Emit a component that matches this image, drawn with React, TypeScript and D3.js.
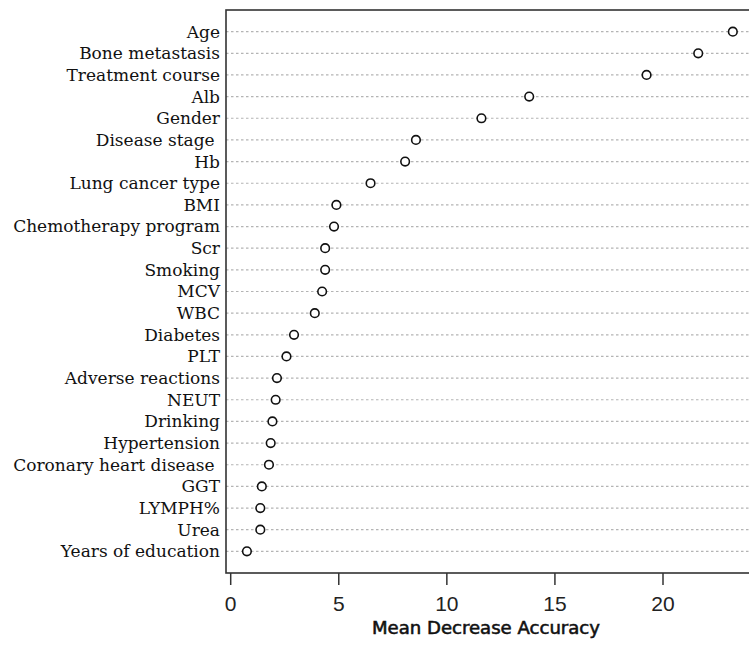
import * as d3 from "d3";
import { useRef, useEffect } from "react";

// variables, top to bottom as drawn
const variables = [
  "Age", "Bone metastasis", "Treatment course", "Alb", "Gender", "Disease stage ",
  "Hb", "Lung cancer type", "BMI", "Chemotherapy program", "Scr", "Smoking",
  "MCV", "WBC", "Diabetes", "PLT", "Adverse reactions", "NEUT", "Drinking",
  "Hypertension", "Coronary heart disease ", "GGT", "LYMPH%", "Urea", "Years of education",
];
// mean decrease accuracy
const accuracy = [
  23.23, 21.63, 19.24, 13.81, 11.6, 8.57, 8.07, 6.47, 4.89, 4.78, 4.37, 4.37,
  4.23, 3.89, 2.93, 2.58, 2.14, 2.08, 1.93, 1.85, 1.77, 1.44, 1.37, 1.37, 0.75,
];
const xTicks = [0, 5, 10, 15, 20];

const W = 749;
const H = 646;

const App = () => {
  const ref = useRef<SVGSVGElement>(null);

  useEffect(() => {
    const svg = d3.select(ref.current);
    svg.selectAll("*").remove();

    // frame
    const frame = { left: 226, top: 10, right: 751, bottom: 573 };

    const x = d3.scaleLinear().domain([0, 20]).range([230.7, 663]);
    const y = d3.scaleLinear().domain([0, variables.length + 1]).range([frame.top, frame.bottom]);

    // dotted guide lines
    svg.append("g")
      .selectAll("line")
      .data(variables)
      .enter()
      .append("line")
      .attr("x1", frame.left)
      .attr("x2", frame.right)
      .attr("y1", (d, i) => y(i + 1))
      .attr("y2", (d, i) => y(i + 1))
      .attr("stroke", "#b4b4b4")
      .attr("stroke-width", 1.2)
      .attr("stroke-dasharray", "2.5,2.5");

    svg.append("rect")
      .attr("x", frame.left)
      .attr("y", frame.top)
      .attr("width", frame.right - frame.left)
      .attr("height", frame.bottom - frame.top)
      .attr("fill", "none")
      .attr("stroke", "#333")
      .attr("stroke-width", 1.6);

    // labels
    svg.append("g")
      .selectAll("text")
      .data(variables)
      .enter()
      .append("text")
      .attr("x", 220)
      .attr("y", (d, i) => y(i + 1))
      .attr("dy", "0.35em")
      .attr("text-anchor", "end")
      .style("white-space", "pre")
      .style("font-family", "'DejaVu Serif', serif")
      .style("font-size", "17px")
      .attr("fill", "#111")
      .text(d => d);

    // points
    svg.append("g")
      .selectAll("circle")
      .data(accuracy)
      .enter()
      .append("circle")
      .attr("cx", d => x(d))
      .attr("cy", (d, i) => y(i + 1))
      .attr("r", 4.3)
      .attr("fill", "white")
      .attr("stroke", "#111")
      .attr("stroke-width", 1.6);

    // x axis
    const axis = svg.append("g");
    axis.selectAll("line")
      .data(xTicks)
      .enter()
      .append("line")
      .attr("x1", d => x(d))
      .attr("x2", d => x(d))
      .attr("y1", frame.bottom)
      .attr("y2", frame.bottom + 12)
      .attr("stroke", "#333")
      .attr("stroke-width", 1.5);
    axis.selectAll("text")
      .data(xTicks)
      .enter()
      .append("text")
      .attr("x", d => x(d))
      .attr("y", 611)
      .attr("text-anchor", "middle")
      .style("font-family", "'Liberation Sans', Arial, sans-serif")
      .style("font-size", "21px")
      .attr("fill", "#222")
      .text(d => d);

    svg.append("text")
      .attr("x", 486)
      .attr("y", 634)
      .attr("text-anchor", "middle")
      .attr("textLength", 228)
      .attr("lengthAdjust", "spacingAndGlyphs")
      .style("font-family", "'DejaVu Sans Condensed', 'DejaVu Sans', sans-serif")
      .style("font-size", "17px")
      .attr("fill", "#111")
      .attr("stroke", "#111")
      .attr("stroke-width", 0.5)
      .text("Mean Decrease Accuracy");
  }, []);

  return (
    <svg ref={ref} width={W} height={H}
      style={{ position: "absolute", left: 0, top: 0, background: "white" }} />
  );
};

export default App;
